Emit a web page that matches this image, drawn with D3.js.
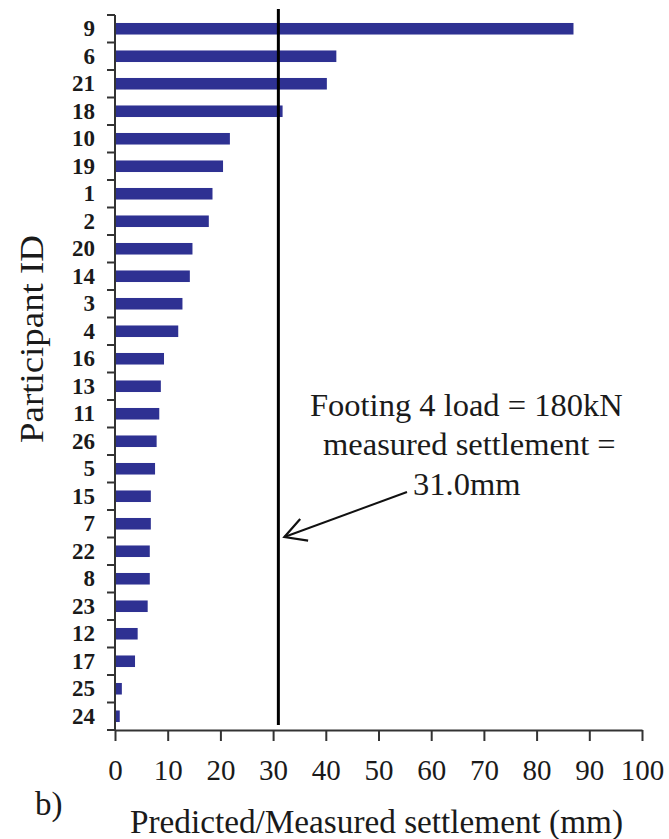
<!DOCTYPE html>
<html>
<head>
<meta charset="utf-8">
<script src="https://cdn.jsdelivr.net/npm/d3@7"></script>
<style>
  html, body { margin: 0; padding: 0; background: #fff; }
  svg { display: block; }
  text { font-family: "Liberation Serif", "Times New Roman", serif; fill: #1a1a1a; }
</style>
</head>
<body>
<script>
// ---- Data ----
const participantIds = ["9","6","21","18","10","19","1","2","20","14","3","4","16","13","11","26","5","15","7","22","8","23","12","17","25","24"];
const settlementValues = [87.0,42.0,40.2,31.8,21.8,20.5,18.5,17.8,14.7,14.2,12.8,12.0,9.3,8.7,8.4,7.9,7.6,6.8,6.8,6.6,6.6,6.2,4.3,3.8,1.3,0.9];
const measuredSettlement = 31.0;
const xTickValues = [0,10,20,30,40,50,60,70,80,90,100];
const annotationLines = ["Footing 4 load = 180kN", "measured settlement =", "31.0mm"];
const xAxisTitle = "Predicted/Measured settlement (mm)";
const yAxisTitle = "Participant ID";
const panelLabel = "b)";

const W = 669, H = 839;
const svg = d3.select("body").append("svg").attr("width", W).attr("height", H);

const x = d3.scaleLinear().domain([0, 100]).range([115, 642]);
const y = d3.scaleBand().domain(participantIds).range([15, 730])
  .paddingInner(0.58).paddingOuter(0.29);

const barColor = "#2e3192";
const axisColor = "#333";
const serif = "'Liberation Serif', 'Times New Roman', serif";

// Bars
svg.append("g").selectAll("rect")
  .data(participantIds.map((id, i) => ({ id, v: settlementValues[i] })))
  .join("rect")
  .attr("x", x(0))
  .attr("y", d => y(d.id))
  .attr("width", d => x(d.v) - x(0))
  .attr("height", y.bandwidth())
  .attr("fill", barColor);

// Y axis labels
const yAxis = svg.append("g").attr("transform", `translate(${x(0)},0)`)
  .call(d3.axisLeft(y).tickSize(0).tickPadding(20));
yAxis.select(".domain").remove();
yAxis.selectAll("text")
  .style("font-family", serif)
  .style("font-size", "23px")
  .style("font-weight", "bold")
  .attr("fill", "#1a1a1a");

// Y axis line and boundary ticks
const step = y.step();
const gap = (step - y.bandwidth()) / 2;
const boundaries = participantIds.map(d => y(d) - gap).concat([y(participantIds[participantIds.length - 1]) + y.bandwidth() + gap]);
svg.append("line")
  .attr("x1", x(0)).attr("x2", x(0))
  .attr("y1", boundaries[0]).attr("y2", boundaries[boundaries.length - 1])
  .attr("stroke", axisColor).attr("stroke-width", 2);
svg.append("g").selectAll("line").data(boundaries).join("line")
  .attr("x1", x(0) - 8).attr("x2", x(0))
  .attr("y1", d => d).attr("y2", d => d)
  .attr("stroke", axisColor).attr("stroke-width", 2);

// X axis
const xAxis = svg.append("g").attr("transform", `translate(0,${boundaries[boundaries.length - 1]})`)
  .call(d3.axisBottom(x).tickValues(xTickValues).tickSize(11).tickSizeOuter(0).tickPadding(18));
xAxis.select(".domain").attr("stroke", axisColor).attr("stroke-width", 2);
xAxis.selectAll(".tick line").attr("stroke", axisColor).attr("stroke-width", 2);
xAxis.selectAll("text")
  .style("font-family", serif)
  .style("font-size", "29px")
  .attr("fill", "#1a1a1a");

// Measured settlement line
svg.append("line")
  .attr("x1", x(measuredSettlement)).attr("x2", x(measuredSettlement))
  .attr("y1", 9).attr("y2", 725)
  .attr("stroke", "#000").attr("stroke-width", 3);

// Annotation text
const annX = [310, 323, 413];
const annY = [416, 455, 495];
svg.append("g").selectAll("text").data(annotationLines).join("text")
  .attr("x", (d, i) => annX[i]).attr("y", (d, i) => annY[i])
  .style("font-family", serif)
  .style("font-size", "32.5px")
  .text(d => d);

// Arrow
const tipX = x(measuredSettlement) + 6, tipY = 537;
const tailX = 407, tailY = 492;
svg.append("line")
  .attr("x1", tailX).attr("y1", tailY).attr("x2", tipX).attr("y2", tipY)
  .attr("stroke", "#111").attr("stroke-width", 2);
const ang = Math.atan2(tailY - tipY, tailX - tipX);
const armLen = 24, spread = 0.5;
svg.append("path")
  .attr("d", `M${tipX + armLen * Math.cos(ang + spread)},${tipY + armLen * Math.sin(ang + spread)} L${tipX},${tipY} L${tipX + armLen * Math.cos(ang - spread)},${tipY + armLen * Math.sin(ang - spread)}`)
  .attr("fill", "none").attr("stroke", "#111").attr("stroke-width", 2.2);

// Axis titles
svg.append("text")
  .attr("x", 130).attr("y", 833)
  .style("font-family", serif)
  .style("font-size", "33px")
  .attr("textLength", 493).attr("lengthAdjust", "spacingAndGlyphs")
  .text(xAxisTitle);

svg.append("text")
  .attr("transform", "translate(43,339) rotate(-90)")
  .attr("text-anchor", "middle")
  .style("font-family", serif)
  .style("font-size", "33px")
  .attr("textLength", 208).attr("lengthAdjust", "spacingAndGlyphs")
  .text(yAxisTitle);

svg.append("text")
  .attr("x", 35).attr("y", 815)
  .style("font-family", serif)
  .style("font-size", "33px")
  .text(panelLabel);
</script>
</body>
</html>
